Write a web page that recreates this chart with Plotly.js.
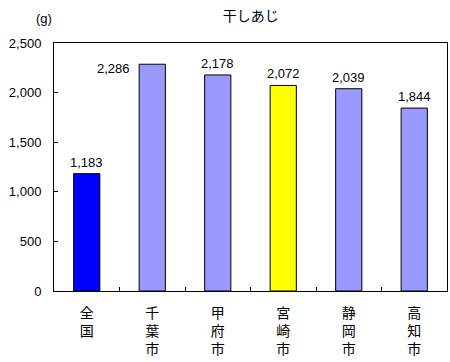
<!DOCTYPE html>
<html><head><meta charset="utf-8">
<script src="https://cdn.plot.ly/plotly-3.0.1.min.js"></script>
<style>body{margin:0;background:#fff}#c{width:450px;height:362px}</style>
</head><body><div id="c"></div>
<script>
var categories = ["全国", "千葉市", "甲府市", "宮崎市", "静岡市", "高知市"];
var tickLabels = ["全<br>国", "千<br>葉<br>市", "甲<br>府<br>市", "宮<br>崎<br>市", "静<br>岡<br>市", "高<br>知<br>市"];
var values = [1183, 2286, 2178, 2072, 2039, 1844];
var barColors = ["#0000FF", "#9999FF", "#9999FF", "#FFFF00", "#9999FF", "#9999FF"];
var yTicks = [0, 500, 1000, 1500, 2000, 2500];

var font = "'Liberation Sans', 'Noto Sans CJK JP', sans-serif";
function fmt(v){ return v.toLocaleString('en-US'); }

var annotations = values.map(function(v, i){
  var a = {x: categories[i], y: v, text: fmt(v), showarrow: false,
    font: {family: font, size: 13, color: "#000"}, yanchor: "bottom", yshift: 2};
  if (i === 1) { a.xanchor = "right"; a.xshift = -20; a.yanchor = "middle"; a.yshift = -4; }
  return a;
});
annotations.push({xref: "paper", yref: "paper", x: -0.025, y: 1.06, xanchor: "center", yanchor: "bottom",
  text: "(g)", showarrow: false, font: {family: font, size: 13, color: "#000"}});

var trace = {type: "bar", x: categories, y: values, width: 0.4,
  marker: {color: barColors, line: {color: "#000", width: 1}}, hoverinfo: "none"};

var layout = {
  width: 450, height: 362,
  margin: {l: 54, r: 3, t: 43, b: 71},
  paper_bgcolor: "#fff", plot_bgcolor: "#fff",
  showlegend: false,
  title: {text: "干しあじ", x: 0.557, xanchor: "center", y: 0.955, yanchor: "middle",
    font: {family: "'Noto Sans CJK JP', sans-serif", size: 14, color: "#000"}},
  xaxis: {type: "category", tickvals: categories, ticktext: tickLabels,
    tickson: "boundaries", ticks: "inside", ticklen: 4, tickcolor: "#000",
    showline: true, linecolor: "#000", linewidth: 1, mirror: true, showgrid: false,
    ticklabelstandoff: 9,
    tickfont: {family: "'Noto Sans CJK JP', sans-serif", size: 14, color: "#000"}},
  yaxis: {range: [0, 2500], tickvals: yTicks, ticktext: yTicks.map(fmt),
    ticks: "inside", ticklen: 4, tickcolor: "#000",
    showline: true, linecolor: "#000", linewidth: 1, mirror: true, showgrid: false, zeroline: false,
    ticklabelstandoff: 9,
    tickfont: {family: font, size: 13, color: "#000"}},
  annotations: annotations
};
Plotly.newPlot("c", [trace], layout, {staticPlot: true, displayModeBar: false});
</script></body></html>
